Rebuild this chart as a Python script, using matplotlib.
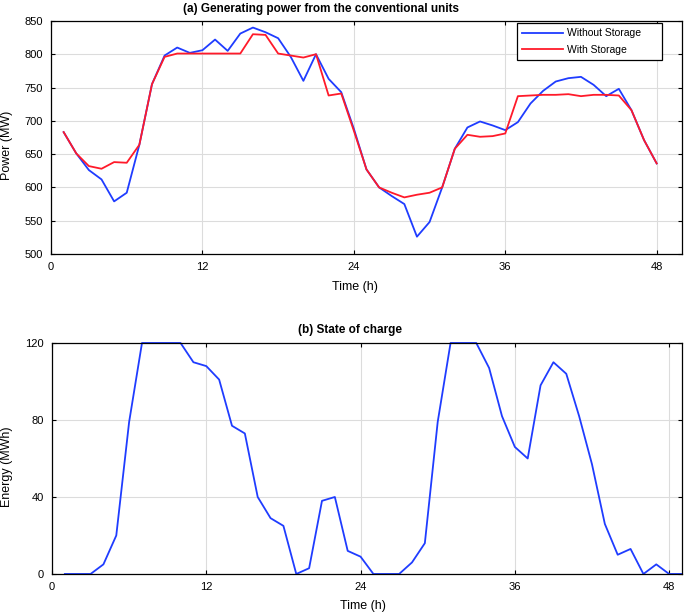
import matplotlib.pyplot as plt

plt.rcParams['font.family'] = ['Liberation Sans', 'DejaVu Sans']

hours = list(range(1, 49))

without_storage = [683, 651, 626, 612, 579, 592, 664, 755, 798, 810, 802, 806,
                   822, 805, 831, 840, 833, 824, 796, 760, 800, 763, 743, 688,
                   627, 600, 587, 575, 526, 548, 600, 658, 690, 699, 693, 686,
                   698, 726, 745, 759, 764, 766, 754, 737, 748, 716, 671, 636]

with_storage = [683, 651, 632, 628, 638, 637, 664, 755, 796, 801, 801, 801,
                801, 801, 801, 830, 829, 801, 798, 795, 800, 738, 741, 685,
                627, 600, 592, 585, 589, 592, 600, 658, 679, 676, 677, 681,
                737, 738, 739, 739, 740, 737, 739, 739, 738, 716, 671, 636]

soc_hours = list(range(1, 50))
soc = [0, 0, 0, 5, 20, 79, 120, 120, 120, 120, 110, 108,
       101, 77, 73, 40, 29, 25, 0, 3, 38, 40, 12, 9,
       0, 0, 0, 6, 16, 79, 120, 120, 120, 107, 82, 66,
       60, 98, 110, 104, 82, 57, 26, 10, 13, 0, 5, 0, 0]

blue = '#1f3cff'
red = '#ff1a2a'
fs = 8

fig = plt.figure(figsize=(6.85, 6.15), dpi=100)

def style(ax):
    ax.grid(True, color='#dcdcdc', linewidth=0.8)
    ax.set_axisbelow(True)
    ax.tick_params(direction='in', length=3, labelsize=fs, top=True, right=True,
                   labelright=False, labeltop=False, pad=6)
    for s in ax.spines.values():
        s.set_linewidth(0.9)
    ax.set_xticks([0, 12, 24, 36, 48])

# (a) power
ax1 = fig.add_axes([0.0745, 0.587, 0.921, 0.379])
ax1.plot(hours, without_storage, color=blue, lw=1.3, label='Without Storage')
ax1.plot(hours, with_storage, color=red, lw=1.3, label='With Storage')
ax1.set_xlim(0, 50)
ax1.set_ylim(500, 850)
ax1.set_yticks(range(500, 851, 50))
style(ax1)
ax1.set_xlabel('Time (h)', fontsize=9)
ax1.set_ylabel('Power (MW)', fontsize=9)
ax1.xaxis.set_label_coords(0.482, -0.116)
ax1.yaxis.set_label_coords(-0.060, 0.468)
leg = ax1.legend(loc='upper left', bbox_to_anchor=(0.7385, 0.991, 0.2298, 0),
                 mode='expand', fontsize=7.5,
                 fancybox=False, framealpha=1, edgecolor='black',
                 handlelength=3.9, handletextpad=0.45, borderpad=0.5,
                 labelspacing=0.65, borderaxespad=0)
leg.get_frame().set_linewidth(0.9)
fig.text(0.469, 0.986, '(a) Generating power from the conventional units',
         ha='center', va='center', fontsize=8.5, fontweight='bold')

# (b) state of charge
ax2 = fig.add_axes([0.0759, 0.0667, 0.9197, 0.3756])
ax2.plot(soc_hours, soc, color=blue, lw=1.3, clip_on=False)
ax2.set_xlim(0, 49)
ax2.set_ylim(0, 120)
ax2.set_yticks([0, 40, 80, 120])
style(ax2)
ax2.set_xlabel('Time (h)', fontsize=9)
ax2.set_ylabel('Energy (MWh)', fontsize=9)
ax2.xaxis.set_label_coords(0.494, -0.113)
ax2.yaxis.set_label_coords(-0.062, 0.463)
fig.text(0.511, 0.463, '(b) State of charge', ha='center', va='center',
         fontsize=8.5, fontweight='bold')

fig.savefig('out.png', dpi=100)
